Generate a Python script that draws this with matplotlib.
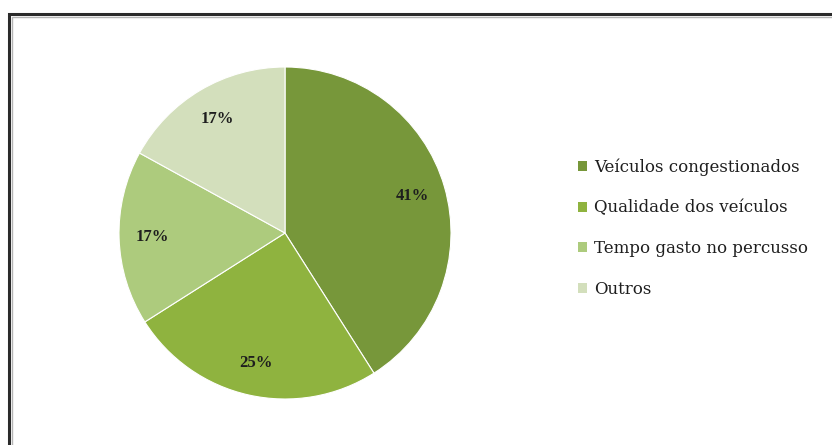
import matplotlib
matplotlib.use("Agg")
import matplotlib.pyplot as plt
from matplotlib.patches import Rectangle, Patch

categories = ["Veículos congestionados", "Qualidade dos veículos",
              "Tempo gasto no percusso", "Outros"]
values = [41, 25, 17, 17]
colors = ["#77973A", "#8FB33F", "#ADCB7D", "#D3DFBC"]

plt.rcParams["font.family"] = ["Liberation Serif", "DejaVu Serif"]

W, H = 832, 445
fig = plt.figure(figsize=(W / 100, H / 100), dpi=100)
fig.patch.set_facecolor("white")

# chart frame (runs past the right and bottom edges)
fig.add_artist(Rectangle((9 / W, -0.05), 1.2, (H - 14) / H + 0.05,
                         transform=fig.transFigure, fill=False,
                         edgecolor="#2b2b2b", linewidth=2.2))
fig.add_artist(Rectangle((11.5 / W, -0.05), 1.2, (H - 16.5) / H + 0.05,
                         transform=fig.transFigure, fill=False,
                         edgecolor="#b5b5b5", linewidth=1.0))

cx, cy, r = 285, 233, 166
ax = fig.add_axes([(cx - r) / W, (H - cy - r) / H, 2 * r / W, 2 * r / H])
wedges, texts, autotexts = ax.pie(
    values, colors=colors, startangle=90, counterclock=False,
    autopct=lambda p: f"{p:.0f}%", pctdistance=0.8,
    wedgeprops=dict(linewidth=0.8, edgecolor="white"),
    textprops=dict(fontsize=12, fontweight="bold", color="#1e1e1e"))
ax.set_xlim(-1, 1)
ax.set_ylim(-1, 1)
ax.set_aspect("equal")
ax.axis("off")

handles = [Patch(facecolor=c, edgecolor="none") for c in colors]
fig.legend(handles, categories, loc="center left",
           bbox_to_anchor=(563 / W, (H - 228) / H), frameon=False,
           prop=dict(family="DejaVu Serif", size=12),
           handlelength=0.55, handleheight=0.55,
           handletextpad=0.4, labelspacing=1.42, labelcolor="#1e1e1e")

fig.savefig("out.png", dpi=100)
